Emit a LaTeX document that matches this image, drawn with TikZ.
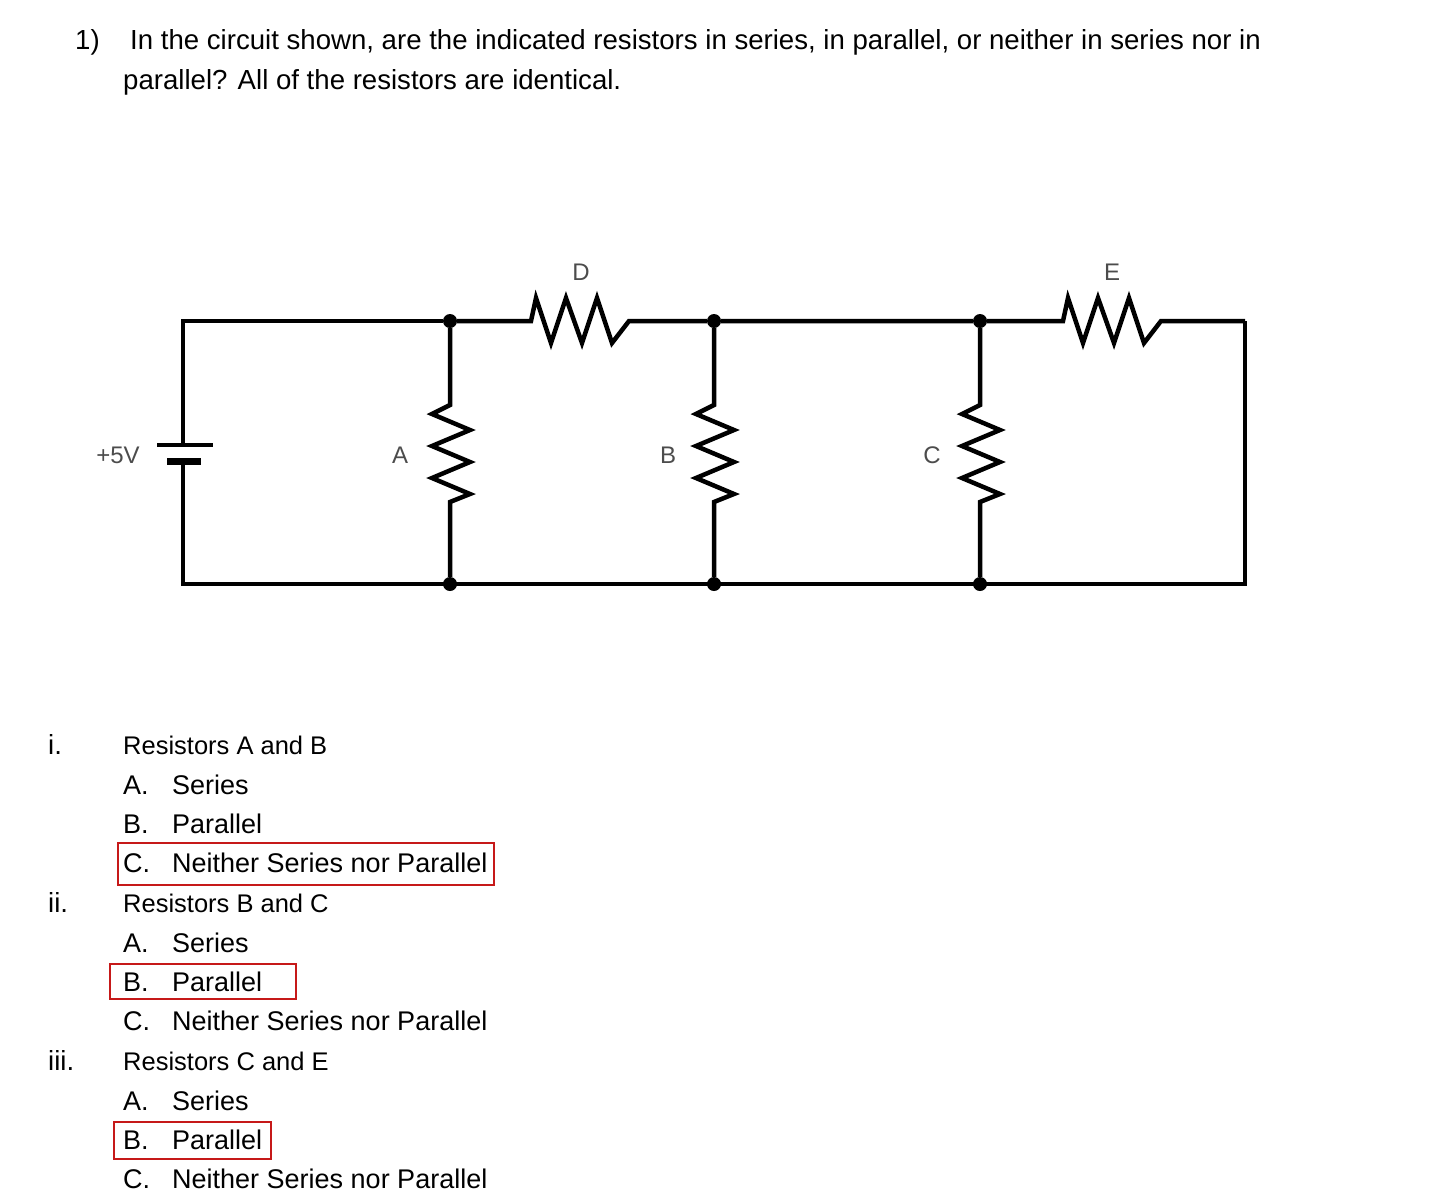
\documentclass[tikz,border=0pt]{standalone}
\usepackage{fontspec}
\setmainfont{Liberation Sans}
\begin{document}
\begin{tikzpicture}[x=1pt,y=-1pt,
  wire/.style={line width=4.5pt},
  dot/.style={circle,fill=black,inner sep=0pt,minimum size=14pt},
  clab/.style={font=\fontsize{24}{28}\selectfont,text=black!70},
  txt/.style={anchor=base west,inner sep=0pt,font=\fontsize{27.6}{30}\selectfont},
  opt/.style={anchor=base west,inner sep=0pt,font=\fontsize{27}{30}\selectfont},
  redbox/.style={draw=red!75!black!90,line width=2pt}]
\useasboundingbox (0,0) rectangle (1429,1203);
% junctions
\node[dot] (t1) at (450,321) {};
\node[dot] (t2) at (714,321) {};
\node[dot] (t3) at (980,321) {};
\node[dot] (b1) at (450,584) {};
\node[dot] (b2) at (714,584) {};
\node[dot] (b3) at (980,584) {};
\coordinate (tl) at (183,321);
\coordinate (bl) at (183,584);
\coordinate (tr) at (1245,321);
\coordinate (br) at (1245,584);
\coordinate (bp) at (183,445);
\coordinate (bn) at (183,461);
% battery
\draw[wire] (157,445) -- (213,445);
\draw[line width=7pt] (167,461) -- (201,461);
\draw[wire] (bp) -- (tl) -- (t1);
\draw[wire] (bn) -- (bl) -- (br) -- (tr);
% top wire with D and E
\draw[wire,line join=miter] (t1) -- (531,321) -- (536,298) -- (551,343) -- (566,298) -- (582,343) -- (597,298) -- (612,343) -- (629,321) -- (t2) -- (t3);
\draw[wire,line join=miter] (t3) -- (1063,321) -- (1068,298) -- (1083,343) -- (1098,298) -- (1114,343) -- (1129,298) -- (1144,343) -- (1161,321) -- (tr);
% vertical resistors
\foreach \n/\x in {1/450,2/714,3/980}{
  \draw[wire,line join=miter] (t\n) -- (\x,405) -- (\x-18,414) -- (\x+20,430) -- (\x-18,446) -- (\x+20,462) -- (\x-18,478) -- (\x+20,494) -- (\x,502) -- (b\n);
}
\node[clab] (lD) at (581,272) {D};
\node[clab] (lE) at (1112,272) {E};
\node[clab] (lA) at (400,455) {A};
\node[clab] (lB) at (668,455) {B};
\node[clab] (lC) at (932,455) {C};
\node[clab] (l5) at (118,455) {+5V};
% question
\node[txt] (q1) at (75,49) {1)};
\node[txt] (q2) at (130,49) {In the circuit shown, are the indicated resistors in series, in parallel, or neither in series nor in};
\node[txt] (q3) at (123,89) {parallel? All of the resistors are identical.};
% lists
\foreach \y/\r/\l in {754/i/A and B,912/ii/B and C,1070/iii/C and E}{
  \node[txt] at (48,\y) {\r.};
  \node[txt,font=\fontsize{25.5}{30}\selectfont] at (123,\y) {Resistors \l};
  \node[opt] at (123,\y+40) {A.};
  \node[opt] at (172,\y+40) {Series};
  \node[opt] at (123,\y+79) {B.};
  \node[opt] at (172,\y+79) {Parallel};
  \node[opt] at (123,\y+118) {C.};
  \node[opt] at (172,\y+118) {Neither Series nor Parallel};
}
\draw[redbox] (118,843) rectangle (494,885);
\draw[redbox] (110,964) rectangle (296,999);
\draw[redbox] (114,1122) rectangle (271,1159);
\end{tikzpicture}
\end{document}
